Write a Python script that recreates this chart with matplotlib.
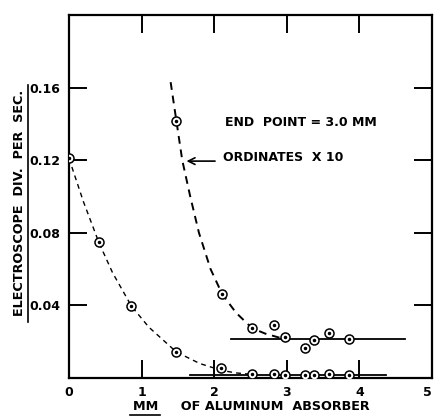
import matplotlib
matplotlib.use("Agg")
import matplotlib.pyplot as plt
from matplotlib.lines import Line2D

# Lower series (measured)
x_low = [0.0, 0.41, 0.86, 1.48, 2.10, 2.52, 2.82, 2.97, 3.25, 3.38, 3.58, 3.86]
y_low = [0.121, 0.0748, 0.0396, 0.0143, 0.0055, 0.0022, 0.0022, 0.0017, 0.0017, 0.0017, 0.0022, 0.0017]
# Upper series (ordinates x10)
x_up = [1.48, 2.11, 2.52, 2.82, 2.97, 3.25, 3.38, 3.58, 3.86]
y_up = [0.1414, 0.0462, 0.0275, 0.029, 0.0226, 0.0165, 0.0209, 0.0248, 0.0215]

# Dashed fitted curves
cx_low = [0.0, 0.2, 0.41, 0.6, 0.86, 1.1, 1.48, 1.8, 2.1, 2.3, 2.6]
cy_low = [0.121, 0.097, 0.0748, 0.058, 0.0396, 0.028, 0.0143, 0.0080, 0.0042, 0.0028, 0.0017]
cx_up = [1.40, 1.48, 1.56, 1.67, 1.79, 1.95, 2.11, 2.30, 2.52, 2.70, 2.90, 3.00]
cy_up = [0.163, 0.1414, 0.120, 0.100, 0.080, 0.060, 0.0462, 0.036, 0.0275, 0.0245, 0.0222, 0.0215]

# End-point levels
lvl_low, lvl_low_x = 0.0017, [1.66, 4.36]
lvl_up, lvl_up_x = 0.0215, [2.23, 4.63]

xticks = [0, 1, 2, 3, 4, 5]
xticklabels = ["0", "1", "2", "3", "4", "5"]
yticks = [0.04, 0.08, 0.12, 0.16]
yticklabels = ["0.04", "0.08", "0.12", "0.16"]

fig = plt.figure(figsize=(4.34, 4.18), dpi=100)
ax = fig.add_axes([69/434, 40/418, (432-69)/434, (378-15)/418])
ax.set_xlim(0, 5)
ax.set_ylim(0, 0.2)

ax.plot(cx_low, cy_low, ls=(0, (3.5, 3)), color="black", lw=1.0)
ax.plot(cx_up, cy_up, ls=(0, (4, 3)), color="black", lw=1.4)
ax.plot(lvl_low_x, [lvl_low]*2, color="black", lw=1.3)
ax.plot(lvl_up_x, [lvl_up]*2, color="black", lw=1.3)

for xs, ys in [(x_low, y_low), (x_up, y_up)]:
    ax.plot(xs, ys, ls="none", marker="o", ms=6.5, mfc="white", mec="black", mew=1.1, zorder=5)
    ax.plot(xs, ys, ls="none", marker="o", ms=1.5, color="black", zorder=6)

for s in ax.spines.values():
    s.set_linewidth(1.6)

fp = dict(family="DejaVu Sans", weight="bold")
ax.set_xticks(xticks)
ax.set_xticklabels(xticklabels, fontsize=9, **fp)
ax.set_yticks(yticks)
ax.set_yticklabels(yticklabels, fontsize=9, **fp)
ax.tick_params(direction="in", length=13, width=1.4, top=True, right=True, pad=6)
for t in (ax.xaxis.get_major_ticks()[0], ax.xaxis.get_major_ticks()[-1]):
    t.tick1line.set_visible(False)
    t.tick2line.set_visible(False)
ax.get_xticklabels()[-1].set_horizontalalignment("right")

ax.text(2.15, 0.141, "END  POINT = 3.0 MM", fontsize=9, va="center", ha="left", **fp)
ax.text(2.12, 0.1215, "ORDINATES  X 10", fontsize=9, va="center", ha="left", **fp)
ax.annotate("", xy=(1.58, 0.1195), xytext=(2.05, 0.1195),
            arrowprops=dict(arrowstyle="->", lw=1.2, color="black", mutation_scale=12))

fig.text(20/434, 1 - 203/418, "ELECTROSCOPE  DIV.  PER  SEC.", rotation=90, fontsize=9.2,
         ha="center", va="center", **fp)
fig.add_artist(Line2D([27.5/434, 27.5/434], [1 - 85/418, 1 - 322/418], color="black", lw=1.2))
fig.text(133/434, 1 - 406/418, "MM     OF ALUMINUM  ABSORBER", fontsize=9.2, ha="left", va="center", **fp)
fig.add_artist(Line2D([130/434, 160/434], [1 - 415/418, 1 - 415/418], color="black", lw=1.2))

fig.savefig("out.png", dpi=100)
